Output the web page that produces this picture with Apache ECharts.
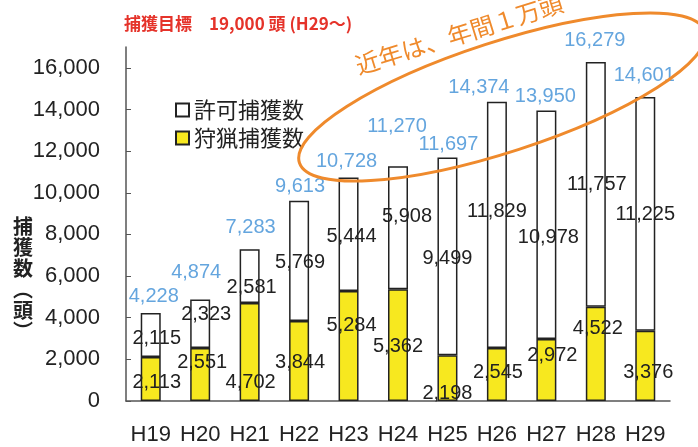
<!DOCTYPE html>
<html>
<head>
<meta charset="utf-8">
<script src="https://cdn.jsdelivr.net/npm/echarts@6/dist/echarts.min.js"></script>
<style>
  html, body { margin: 0; padding: 0; background: #fff; }
  #main { width: 698px; height: 447px; }
</style>
</head>
<body>
<div id="main"></div>
<script>
// 年度
const years = ['H19', 'H20', 'H21', 'H22', 'H23', 'H24', 'H25', 'H26', 'H27', 'H28', 'H29'];
// 狩猟捕獲数（下段・黄）
const huntingCatch = [2113, 2551, 4702, 3844, 5284, 5362, 2198, 2545, 2972, 4522, 3376];
// 許可捕獲数（上段・白）
const permitCatch = [2115, 2323, 2581, 5769, 5444, 5908, 9499, 11829, 10978, 11757, 11225];
// 合計
const totalCatch = [4228, 4874, 7283, 9613, 10728, 11270, 11697, 14374, 13950, 16279, 14601];

// ラベルの微調整 [dx, dy]
const huntShift = [[6, 3], [2, -12], [1, 30], [1, 2], [3, -20], [0, 1], [0, 15], [1, -2], [6, -15], [2, -25], [3, 7]];
const permitShift = [[6, 4], [6, -9], [2, 11], [1, 2], [3, 2], [9, -11], [0, 2], [0, -13], [2, 13], [1, 0], [0, 1]];
const totalShift = [[3, -16], [-4, -27], [1, -22], [1, -14], [-2, -16], [-1, -40], [1, -13], [-18, -14], [-1, -14], [-1, -22], [-1, -21]];

const fmt = v => Number(v).toLocaleString('en-US');
const numFont = '"Liberation Sans", Arial, "Noto Sans CJK JP", sans-serif';
const jpFont = '"Noto Sans CJK JP", sans-serif';

const chart = echarts.init(document.getElementById('main'));
chart.setOption({
  backgroundColor: '#fff',
  animation: false,
  textStyle: { fontFamily: numFont },
  title: {
    text: '捕獲目標　19,000 頭 (H29～)',
    left: 119,
    top: 10,
    textStyle: { color: '#e5332a', fontSize: 17, fontWeight: 'bold', fontFamily: jpFont }
  },
  legend: {
    data: ['許可捕獲数', '狩猟捕獲数'],
    orient: 'vertical',
    left: 170,
    top: 94,
    itemWidth: 13,
    itemHeight: 13,
    itemGap: 6,
    icon: 'rect',
    textStyle: { fontSize: 22, color: '#222', fontFamily: jpFont }
  },
  grid: { left: 126, right: 28, top: 47, bottom: 46 },
  xAxis: {
    type: 'category',
    data: years,
    axisLine: { lineStyle: { color: '#555', width: 1.5 } },
    axisTick: { length: 5, lineStyle: { color: '#555' } },
    axisLabel: { interval: 0, fontSize: 22, color: '#222', margin: 23 }
  },
  yAxis: {
    type: 'value',
    min: 0,
    max: 17000,
    interval: 2000,
    splitLine: { show: false },
    axisLine: { show: true, lineStyle: { color: '#555', width: 1.5 } },
    axisTick: { show: true, inside: true, length: 5, lineStyle: { color: '#555' } },
    axisLabel: { fontSize: 22, color: '#222', margin: 26, showMaxLabel: false, formatter: fmt }
  },
  series: [
    {
      name: '狩猟捕獲数',
      type: 'bar',
      stack: 'catch',
      barWidth: 20,
      itemStyle: { color: '#f7e81f', borderColor: '#222', borderWidth: 1.5 },
      label: { show: true, position: 'inside', fontSize: 20, color: '#222', formatter: p => fmt(p.value) },
      data: huntingCatch.map((v, i) => ({ value: v, label: { offset: huntShift[i] } }))
    },
    {
      name: '許可捕獲数',
      type: 'bar',
      stack: 'catch',
      barWidth: 20,
      itemStyle: { color: '#fff', borderColor: '#222', borderWidth: 1.5 },
      label: { show: true, position: 'inside', fontSize: 20, color: '#222', formatter: p => fmt(p.value) },
      data: permitCatch.map((v, i) => ({ value: v, label: { offset: permitShift[i] } }))
    },
    {
      name: '合計',
      type: 'scatter',
      symbolSize: 0,
      silent: true,
      label: { show: true, position: 'inside', fontSize: 20, color: '#3d8fd6', formatter: p => fmt(p.value) },
      data: totalCatch.map((v, i) => ({ value: v, label: { offset: totalShift[i] } }))
    }
  ],
  graphic: [
    {
      // 縦書きの軸名
      type: 'text',
      x: 23,
      y: 279,
      style: {
        text: '捕\n獲\n数\n︵\n頭\n︶',
        fill: '#222',
        font: 'bold 20px "Noto Sans CJK JP", sans-serif',
        lineHeight: 21,
        textAlign: 'center',
        textVerticalAlign: 'middle'
      }
    },
    {
      type: 'ellipse',
      x: 502,
      y: 97,
      rotation: 0.314,
      z: 100,
      shape: { cx: 0, cy: 0, rx: 213, ry: 55 },
      style: { fill: null, stroke: '#ef8a2c', lineWidth: 3 }
    },
    {
      type: 'text',
      x: 356,
      y: 66,
      rotation: 0.30,
      z: 100,
      style: {
        text: '近年は、年間１万頭',
        fill: '#ef8a2c',
        font: '24px "Noto Sans CJK JP", sans-serif',
        textAlign: 'left',
        textVerticalAlign: 'middle'
      }
    }
  ]
});
</script>
</body>
</html>
